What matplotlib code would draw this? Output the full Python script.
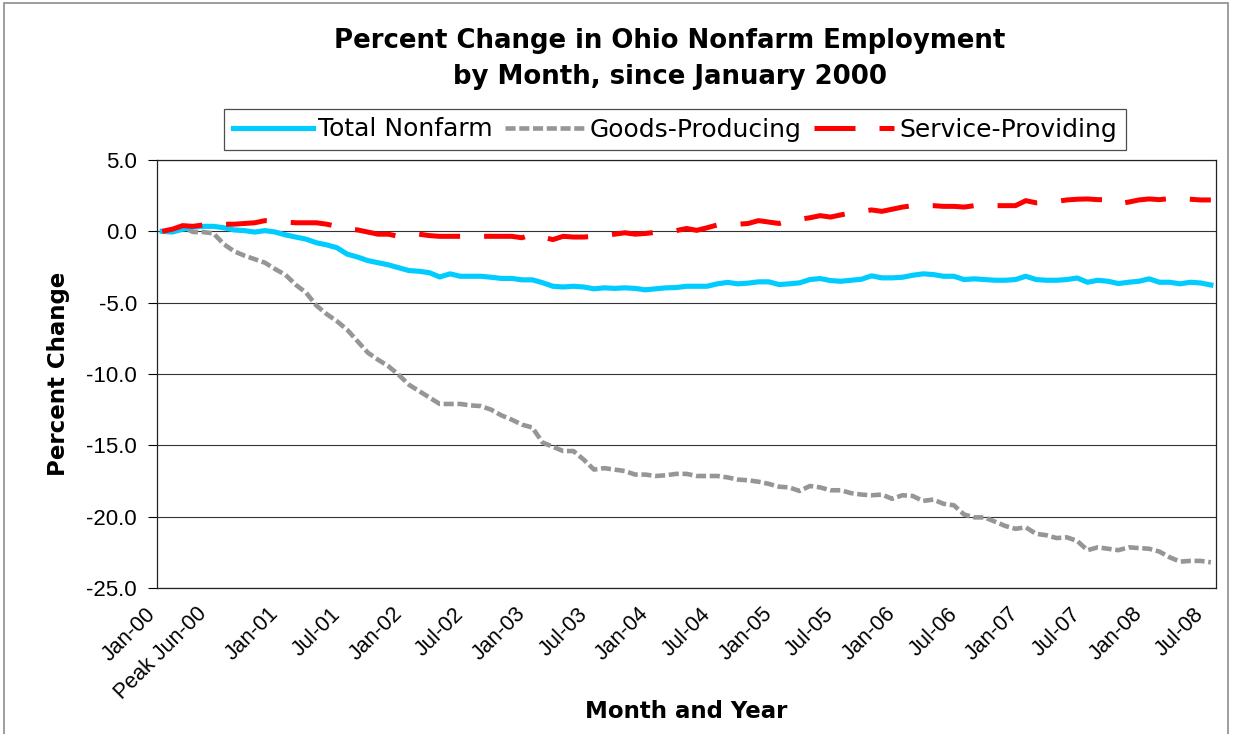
import matplotlib
matplotlib.use('Agg')
import matplotlib.pyplot as plt
import matplotlib.patches as mpatches
from matplotlib.transforms import ScaledTranslation
import pandas as pd

# monthly categories, Jan-00 .. Jul-08
months = [d.strftime('%b-%y') for d in pd.date_range('2000-01-01', '2008-07-01', freq='MS')]

total_nonfarm = [
    0.0, -0.05, 0.15, 0.3, 0.35, 0.35, 0.25, 0.1, 0.05, -0.05,
    0.05, -0.05, -0.25, -0.4, -0.55, -0.8, -0.95, -1.15, -1.6, -1.8,
    -2.05, -2.2, -2.35, -2.55, -2.75, -2.8, -2.9, -3.2, -2.98, -3.15,
    -3.15, -3.15, -3.22, -3.3, -3.3, -3.4, -3.4, -3.6, -3.85, -3.9,
    -3.85, -3.9, -4.03, -3.96, -4.0, -3.96, -4.0, -4.1, -4.03, -3.96,
    -3.94, -3.85, -3.85, -3.85, -3.68, -3.58, -3.68, -3.63, -3.54, -3.54,
    -3.73, -3.68, -3.61, -3.38, -3.31, -3.45, -3.5, -3.43, -3.36, -3.12,
    -3.26, -3.26, -3.22, -3.08, -2.98, -3.03, -3.15, -3.15, -3.38, -3.33,
    -3.38, -3.43, -3.43, -3.38, -3.15, -3.38, -3.43, -3.43, -3.38, -3.27,
    -3.57, -3.43, -3.5, -3.66, -3.57, -3.5, -3.33, -3.57, -3.57, -3.68,
    -3.57, -3.62, -3.76,
]

goods_producing = [
    0.0, 0.05, 0.3, -0.05, -0.05, -0.15, -0.9, -1.4, -1.7, -1.95,
    -2.2, -2.65, -3.05, -3.75, -4.3, -5.2, -5.8, -6.3, -6.9, -7.7,
    -8.5, -9.0, -9.45, -10.05, -10.75, -11.2, -11.65, -12.1, -12.1, -12.1,
    -12.2, -12.25, -12.5, -12.9, -13.2, -13.55, -13.75, -14.8, -15.1, -15.4,
    -15.4, -16.0, -16.7, -16.6, -16.7, -16.8, -17.05, -17.05, -17.15, -17.1,
    -17.0, -17.0, -17.15, -17.15, -17.15, -17.25, -17.4, -17.45, -17.55, -17.7,
    -17.9, -17.95, -18.2, -17.85, -17.95, -18.15, -18.15, -18.35, -18.45, -18.5,
    -18.45, -18.75, -18.5, -18.55, -18.9, -18.8, -19.1, -19.2, -19.85, -20.05,
    -20.05, -20.35, -20.65, -20.85, -20.75, -21.2, -21.3, -21.5, -21.45, -21.7,
    -22.35, -22.15, -22.25, -22.35, -22.15, -22.2, -22.25, -22.45, -22.85, -23.15,
    -23.1, -23.1, -23.2,
]

service_providing = [
    0.0, 0.15, 0.4, 0.35, 0.45, 0.55, 0.5, 0.5, 0.55, 0.6,
    0.75, 0.7, 0.65, 0.6, 0.6, 0.6, 0.5, 0.35, 0.15, 0.1,
    -0.05, -0.2, -0.2, -0.35, -0.3, -0.2, -0.3, -0.35, -0.35, -0.35,
    -0.35, -0.35, -0.35, -0.35, -0.35, -0.45, -0.2, -0.4, -0.58, -0.35,
    -0.4, -0.4, -0.35, -0.3, -0.2, -0.1, -0.2, -0.15, -0.07, 0.0,
    0.05, 0.2, 0.07, 0.25, 0.45, 0.5, 0.5, 0.55, 0.75, 0.65,
    0.55, 0.75, 0.85, 0.95, 1.1, 1.0, 1.15, 1.3, 1.4, 1.5,
    1.4, 1.55, 1.7, 1.8, 1.8, 1.8, 1.75, 1.75, 1.7, 1.8,
    1.8, 1.8, 1.8, 1.8, 2.15, 2.0, 2.05, 2.1, 2.2, 2.25,
    2.27, 2.22, 2.22, 1.95, 2.05, 2.2, 2.27, 2.22, 2.3, 2.3,
    2.25, 2.2, 2.2,
]

tick_months = ['Jan-00', 'Jun-00', 'Jan-01', 'Jul-01', 'Jan-02', 'Jul-02', 'Jan-03',
               'Jul-03', 'Jan-04', 'Jul-04', 'Jan-05', 'Jul-05', 'Jan-06', 'Jul-06',
               'Jan-07', 'Jul-07', 'Jan-08', 'Jul-08']
tick_labels = ['Jan-00', 'Peak Jun-00', 'Jan-01', 'Jul-01', 'Jan-02', 'Jul-02', 'Jan-03',
               'Jul-03', 'Jan-04', 'Jul-04', 'Jan-05', 'Jul-05', 'Jan-06', 'Jul-06',
               'Jan-07', 'Jul-07', 'Jan-08', 'Jul-08']

BLUE = '#00CCFF'
GRAY = '#969696'
RED = '#FF0000'

fig = plt.figure(figsize=(12.35, 7.34), dpi=100)
ax = fig.add_axes([157 / 1235, 1 - 588 / 734, (1216 - 157) / 1235, (588 - 160) / 734])

x = list(range(len(months)))
ax.plot(x, goods_producing, color=GRAY, lw=3.3, linestyle=(0, (2.2, 0.8)),
        dash_capstyle='butt', zorder=3, label='Goods-Producing')
ax.plot(x, total_nonfarm, color=BLUE, lw=3.7, solid_joinstyle='round',
        zorder=4, label='Total Nonfarm')
ax.plot(x, service_providing, color=RED, lw=3.6, linestyle=(0, (8.2, 4.8)),
        dash_capstyle='butt', zorder=5, label='Service-Providing')

ax.set_xlim(-0.5, len(months) - 0.5)
ax.set_ylim(-25, 5)
ax.set_yticks(range(-25, 6, 5))
ax.set_yticklabels([f'{v:.1f}' for v in range(-25, 6, 5)], fontsize=16,
                   family='Liberation Sans')
ax.tick_params(axis='y', direction='out', length=6.5, width=0.8, pad=8)
ax.grid(True, axis='y', color='#333333', linewidth=0.8)
ax.set_axisbelow(True)
for s in ax.spines.values():
    s.set_color('#222222')
    s.set_linewidth(0.9)

ax.set_xticks([months.index(m) for m in tick_months])
ax.set_xticklabels(tick_labels, rotation=45, ha='right', va='center',
                   rotation_mode='anchor', fontsize=15.5, family='Liberation Sans')
ax.tick_params(axis='x', length=0, pad=16.5)
shift = ScaledTranslation(-10 / 100, 0, fig.dpi_scale_trans)
for lbl in ax.get_xticklabels():
    lbl.set_transform(lbl.get_transform() + shift)

ax.set_xlabel('Month and Year', fontsize=16.5, fontweight='bold', va='center')
ax.xaxis.set_label_coords(0.5, (588 - 711) / 428)
ax.set_ylabel('Percent Change', fontsize=16.5, fontweight='bold', va='center')
ax.yaxis.set_label_coords((58 - 157) / 1059, 0.5)

fig.text(670 / 1235, 1 - 59 / 734, 'Percent Change in Ohio Nonfarm Employment\nby Month, since January 2000',
         ha='center', va='center', fontsize=18.7, fontweight='bold', linespacing=1.5)

handles, labels = ax.get_legend_handles_labels()
order = [1, 0, 2]
leg = fig.legend([handles[i] for i in order], [labels[i] for i in order],
                 loc='center', bbox_to_anchor=(675 / 1235, 1 - 129.5 / 734),
                 ncol=3, fontsize=18, frameon=True, fancybox=False,
                 handlelength=3.2, handletextpad=0.2, columnspacing=0.5,
                 borderpad=0.35, borderaxespad=0)
leg.get_frame().set_edgecolor('#222222')
leg.get_frame().set_linewidth(0.9)

# outer chart border
fig.patches.append(mpatches.Rectangle((4 / 1235, -0.05), (1228 - 4) / 1235, 1.05 - 3 / 734,
                                      transform=fig.transFigure, fill=False,
                                      edgecolor='#8c8c8c', linewidth=1.2))

fig.savefig('out.png', dpi=100, facecolor='white')
